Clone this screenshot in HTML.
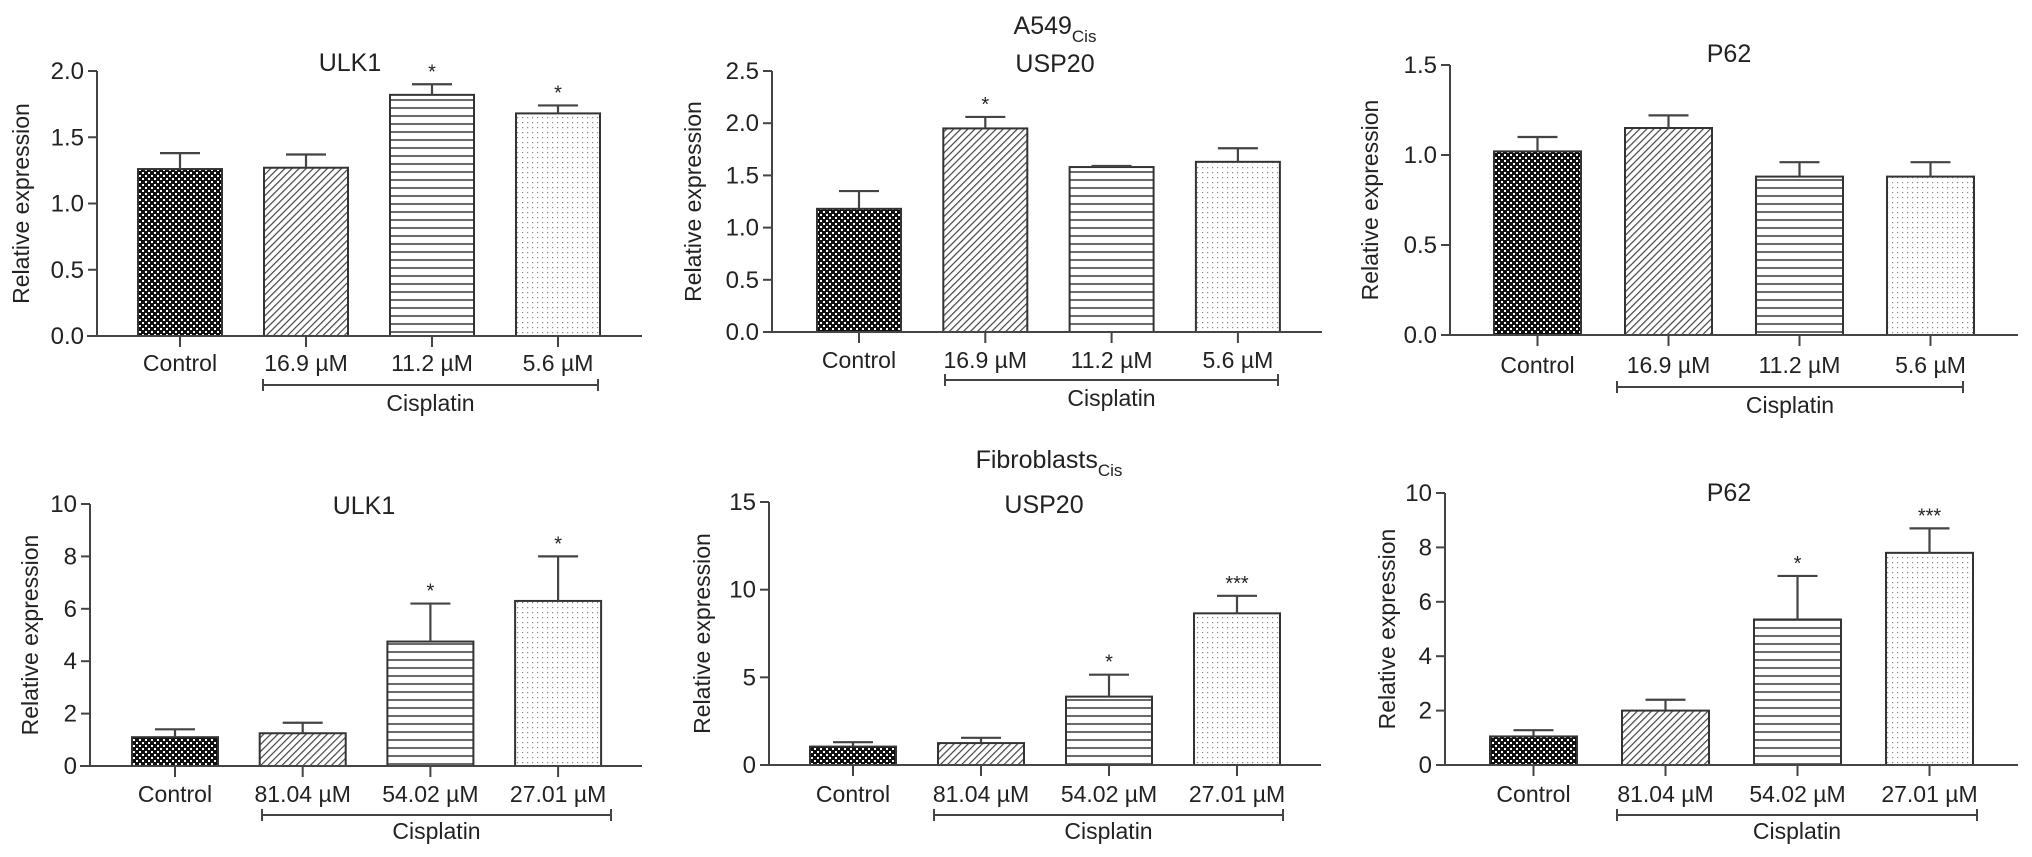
<!DOCTYPE html>
<html>
<head>
<meta charset="utf-8">
<style>
html,body{margin:0;padding:0;background:#fff;}
svg{display:block;}
text{font-family:"Liberation Sans",Arial,sans-serif;fill:#222;}
</style>
</head>
<body>
<svg id="fig" width="2032" height="857" viewBox="0 0 2032 857" xmlns="http://www.w3.org/2000/svg">
<defs>
<pattern id="pat-check" patternUnits="userSpaceOnUse" width="6" height="6">
<rect width="6" height="6" fill="#111"/>
<rect x="1" y="1" width="2" height="2" fill="#fff"/>
<rect x="4" y="4" width="2" height="2" fill="#fff"/>
</pattern>
<pattern id="pat-diag" patternUnits="userSpaceOnUse" width="5" height="5" patternTransform="rotate(45)">
<rect width="5" height="5" fill="#fff"/>
<line x1="0" y1="0" x2="0" y2="5" stroke="#444" stroke-width="2.4"/>
</pattern>
<pattern id="pat-horiz" patternUnits="userSpaceOnUse" width="8" height="8">
<rect width="8" height="8" fill="#fff"/>
<line x1="0" y1="4" x2="8" y2="4" stroke="#444" stroke-width="1.6"/>
</pattern>
<pattern id="pat-dots" patternUnits="userSpaceOnUse" width="5" height="5">
<rect width="5" height="5" fill="#fff"/>
<rect x="2" y="2" width="1.2" height="1.2" fill="#888"/>
</pattern>
</defs>
<text x="1055" y="34" font-size="25" text-anchor="middle">A549<tspan font-size="17" dy="8">Cis</tspan></text>
<text x="1049" y="468" font-size="25" text-anchor="middle">Fibroblasts<tspan font-size="17" dy="8">Cis</tspan></text>
</svg>
<script>
// ---- data ----
const categoriesTop = ["Control","16.9 µM","11.2 µM","5.6 µM"];
const categoriesBottom = ["Control","81.04 µM","54.02 µM","27.01 µM"];

const a549Ulk1Values = [1.26,1.27,1.82,1.68];
const a549Ulk1Errors = [1.38,1.37,1.90,1.74];
const a549Ulk1Sig = ["","","*","*"];
const a549Ulk1Ticks = ["0.0","0.5","1.0","1.5","2.0"];

const a549Usp20Values = [1.18,1.95,1.58,1.63];
const a549Usp20Errors = [1.35,2.06,1.59,1.76];
const a549Usp20Sig = ["","*","",""];
const a549Usp20Ticks = ["0.0","0.5","1.0","1.5","2.0","2.5"];

const a549P62Values = [1.02,1.15,0.88,0.88];
const a549P62Errors = [1.10,1.22,0.96,0.96];
const a549P62Sig = ["","","",""];
const a549P62Ticks = ["0.0","0.5","1.0","1.5"];

const fibUlk1Values = [1.1,1.25,4.75,6.3];
const fibUlk1Errors = [1.4,1.65,6.2,8.0];
const fibUlk1Sig = ["","","*","*"];
const fibUlk1Ticks = ["0","2","4","6","8","10"];

const fibUsp20Values = [1.05,1.25,3.9,8.65];
const fibUsp20Errors = [1.3,1.55,5.15,9.65];
const fibUsp20Sig = ["","","*","***"];
const fibUsp20Ticks = ["0","5","10","15"];

const fibP62Values = [1.05,2.0,5.35,7.8];
const fibP62Errors = [1.28,2.4,6.95,8.7];
const fibP62Sig = ["","","*","***"];
const fibP62Ticks = ["0","2","4","6","8","10"];

// ---- layout ----
const NS = "http://www.w3.org/2000/svg";
const svg = document.getElementById("fig");
const fills = ["url(#pat-check)","url(#pat-diag)","url(#pat-horiz)","url(#pat-dots)"];

function mk(tag, attrs, parent){
  const e = document.createElementNS(NS, tag);
  for (const k in attrs) e.setAttribute(k, attrs[k]);
  (parent||svg).appendChild(e);
  return e;
}

const panels = [
 {id:"a549-ulk1", title:"ULK1", titleX:350, titleY:71, ax:97, y0:336, yTop:71, xl:87, xr:642, x0:138, step:126, bw:84, yt:23,
  cats:categoriesTop, vals:a549Ulk1Values, errs:a549Ulk1Errors, sig:a549Ulk1Sig, ticks:a549Ulk1Ticks,
  labY:371, brY:385, brL:263, brR:598, cisY:411},
 {id:"a549-usp20", title:"USP20", titleX:1055, titleY:72, ax:772, y0:332, yTop:71, xl:765, xr:1322, x0:817, step:126.3, bw:84, yt:695,
  cats:categoriesTop, vals:a549Usp20Values, errs:a549Usp20Errors, sig:a549Usp20Sig, ticks:a549Usp20Ticks,
  labY:368, brY:380, brL:945, brR:1278, cisY:406},
 {id:"a549-p62", title:"P62", titleX:1729, titleY:62, ax:1450, y0:335, yTop:65, xl:1441, xr:2018, x0:1494, step:131, bw:87, yt:1372,
  cats:categoriesTop, vals:a549P62Values, errs:a549P62Errors, sig:a549P62Sig, ticks:a549P62Ticks,
  labY:373, brY:387, brL:1617, brR:1963, cisY:413},
 {id:"fib-ulk1", title:"ULK1", titleX:364, titleY:514, ax:90, y0:766, yTop:504, xl:80, xr:642, x0:132, step:127.7, bw:86, yt:32,
  cats:categoriesBottom, vals:fibUlk1Values, errs:fibUlk1Errors, sig:fibUlk1Sig, ticks:fibUlk1Ticks,
  labY:802, brY:815, brL:262, brR:611, cisY:839},
 {id:"fib-usp20", title:"USP20", titleX:1044, titleY:513, ax:769, y0:765, yTop:502, xl:760, xr:1321, x0:810, step:128, bw:86, yt:704,
  cats:categoriesBottom, vals:fibUsp20Values, errs:fibUsp20Errors, sig:fibUsp20Sig, ticks:fibUsp20Ticks,
  labY:802, brY:815, brL:934, brR:1283, cisY:839},
 {id:"fib-p62", title:"P62", titleX:1729, titleY:501, ax:1445, y0:765, yTop:493, xl:1437, xr:2018, x0:1490, step:132, bw:87, yt:1389,
  cats:categoriesBottom, vals:fibP62Values, errs:fibP62Errors, sig:fibP62Sig, ticks:fibP62Ticks,
  labY:802, brY:815, brL:1617, brR:1977, cisY:839}
];

panels.forEach(p => {
  const g = mk("g", {});
  
  
  const tmin = parseFloat(p.ticks[0]), tmax = parseFloat(p.ticks[p.ticks.length-1]);
  const yScale = v => p.y0 - (v - tmin) / (tmax - tmin) * (p.y0 - p.yTop);
  const xCenter = i => p.x0 + p.bw/2 + i * p.step;

  const t = mk("text", {x:p.titleX, y:p.titleY, "font-size":25, "text-anchor":"middle"}, g);
  t.textContent = p.title;
  
  

  const yl = mk("text", {x:p.yt, y:(p.y0+p.yTop)/2, "font-size":23, "text-anchor":"middle", "dominant-baseline":"middle", transform:`rotate(-90 ${p.yt} ${(p.y0+p.yTop)/2})`}, g);
  yl.textContent = "Relative expression";
  
  

  const yAxis = mk("line", {x1:p.ax, y1:p.yTop, x2:p.ax, y2:p.y0, stroke:"#444", "stroke-width":2}, g);
  
  

  p.ticks.forEach(tk => {
    const yy = yScale(parseFloat(tk));
    mk("line", {x1:p.ax-9, y1:yy, x2:p.ax, y2:yy, stroke:"#444", "stroke-width":2}, g);
    const tl = mk("text", {x:p.ax-13, y:yy+8, "font-size":24, "text-anchor":"end"}, g);
    tl.textContent = tk;
    
    
  });

  p.vals.forEach((v, i) => {
    const cx = xCenter(i);
    const top = yScale(v);
    const bar = mk("rect", {x:cx-p.bw/2, y:top, width:p.bw, height:p.y0-top, fill:fills[i], stroke:"#333", "stroke-width":2}, g);
    
    
    const ey = yScale(p.errs[i]);
    const eb = mk("path", {d:`M${cx} ${top} V${ey} M${cx-20} ${ey} H${cx+20}`, stroke:"#444", "stroke-width":2.2, fill:"none"}, g);
    
    
    if (p.sig[i]) {
      const s = mk("text", {x:cx, y:ey-6, "font-size":20, "text-anchor":"middle"}, g);
      s.textContent = p.sig[i];
      
      
    }
    mk("line", {x1:cx, y1:p.y0, x2:cx, y2:p.y0+11, stroke:"#444", "stroke-width":2}, g);
    const xl = mk("text", {x:cx, y:p.labY, "font-size":23, "text-anchor":"middle"}, g);
    xl.textContent = p.cats[i];
    
    
  });

  const xAxis = mk("line", {x1:p.xl, y1:p.y0, x2:p.xr, y2:p.y0, stroke:"#444", "stroke-width":2}, g);
  
  

  const br = mk("path", {d:`M${p.brL} ${p.brY-6} V${p.brY+6} M${p.brL} ${p.brY} H${p.brR} M${p.brR} ${p.brY-6} V${p.brY+6}`, stroke:"#444", "stroke-width":2, fill:"none"}, g);
  
  
  const cl = mk("text", {x:(p.brL+p.brR)/2, y:p.cisY, "font-size":23, "text-anchor":"middle"}, g);
  cl.textContent = "Cisplatin";
  
  
});
</script>
</body>
</html>
